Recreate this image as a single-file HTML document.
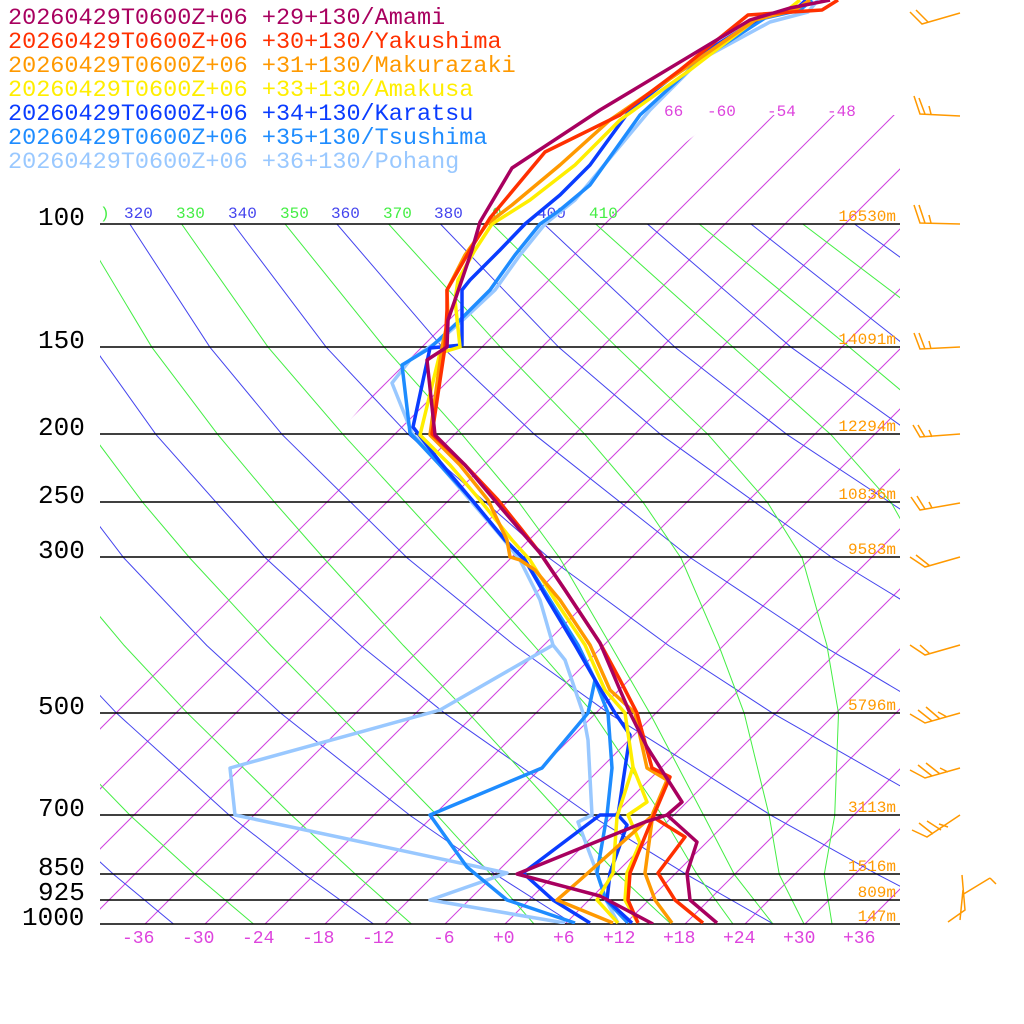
<!DOCTYPE html>
<html><head><meta charset="utf-8"><style>
body{margin:0;background:#fff;width:1024px;height:1024px;overflow:hidden}
svg{display:block}
text{font-family:"Liberation Mono",monospace}
</style></head><body>
<svg width="1024" height="1024" viewBox="0 0 1024 1024" xmlns="http://www.w3.org/2000/svg">
<defs>
<clipPath id="c"><rect x="100" y="0" width="800" height="924"/></clipPath>
<clipPath id="ca"><rect x="100" y="224" width="800" height="700"/></clipPath>
<clipPath id="ci"><polygon points="100,924 100,702 279,500 421,340 560,230 660,163 720,115 900,115 900,924"/></clipPath>
</defs>
<g clip-path="url(#ci)" stroke="#d040e0" stroke-width="1">
<line x1="-455" y1="924" x2="469" y2="0"/><line x1="-395" y1="924" x2="529" y2="0"/>
<line x1="-335" y1="924" x2="589" y2="0"/><line x1="-275" y1="924" x2="649" y2="0"/>
<line x1="-215" y1="924" x2="709" y2="0"/><line x1="-155" y1="924" x2="769" y2="0"/>
<line x1="-95" y1="924" x2="829" y2="0"/><line x1="-35" y1="924" x2="889" y2="0"/>
<line x1="25" y1="924" x2="949" y2="0"/><line x1="85" y1="924" x2="1009" y2="0"/>
<line x1="145" y1="924" x2="1069" y2="0"/><line x1="205" y1="924" x2="1129" y2="0"/>
<line x1="265" y1="924" x2="1189" y2="0"/><line x1="325" y1="924" x2="1249" y2="0"/>
<line x1="385" y1="924" x2="1309" y2="0"/><line x1="445" y1="924" x2="1369" y2="0"/>
<line x1="505" y1="924" x2="1429" y2="0"/><line x1="565" y1="924" x2="1489" y2="0"/>
<line x1="625" y1="924" x2="1549" y2="0"/><line x1="685" y1="924" x2="1609" y2="0"/>
<line x1="745" y1="924" x2="1669" y2="0"/><line x1="805" y1="924" x2="1729" y2="0"/>
<line x1="865" y1="924" x2="1789" y2="0"/>
</g>
<g clip-path="url(#ca)" fill="none" stroke="#4444ee" stroke-width="1">
<polyline points="173.5,924 113.9,874.6 49.1,815.6"/>
<polyline points="373.5,924 304.9,874.6 229.7,815.6 116.7,713.3 52.8,645.4"/>
<polyline points="573.5,924 495.8,874.6 410.3,815.6 280.8,713.3 206.7,645.4 123.9,558 29.9,434.7"/>
<polyline points="773.5,924 686.7,874.6 590.9,815.6 444.8,713.3 360.6,645.4 265.6,558 156.1,434.7 93.8,347.3 26.3,224"/>
<polyline points="973.5,924 877.6,874.6 771.5,815.6 608.8,713.3 514.5,645.4 407.3,558 282.3,434.7 210,347.3 129.8,224"/>
<polyline points="1173.5,924 1068.5,874.6 952.1,815.6 772.9,713.3 668.4,645.4 549.1,558 408.5,434.7 326.3,347.3 233.3,224"/>
<polyline points="1132.7,815.6 936.9,713.3 822.3,645.4 690.8,558 534.8,434.7 442.5,347.3 336.9,224"/>
<polyline points="1101,713.3 976.2,645.4 832.6,558 661,434.7 558.8,347.3 440.4,224"/>
<polyline points="1045,645.4 974.3,558 787.2,434.7 675,347.3 543.9,224"/>
<polyline points="1040,558 913.4,434.7 791.2,347.3 647.4,224"/>
<polyline points="1039.6,434.7 907.5,347.3 750.9,224"/>
<polyline points="1023.7,347.3 854.5,224"/>
</g>
<g clip-path="url(#ca)" fill="none" stroke="#44ee44" stroke-width="1">
<polyline points="253.5,924 195.1,874.6 130.4,815.6 31.1,713.3"/>
<polyline points="411.5,924 355.9,874.6 292,815.6 187.6,713.3 124.1,645.4 50.8,558"/>
<polyline points="534,924 491,874.6 437.4,815.6 337.5,713.3 270.7,645.4 189.8,558 142.9,502.6 92.1,434.7"/>
<polyline points="671,924 617.9,874.6 562.4,815.6 468.7,713.3 403.3,645.4 323.6,558 274.8,502.6 217.9,434.7 151.9,347.3 78,224"/>
<polyline points="733,924 697.2,874.6 662.2,815.6 593.3,713.3 533.9,645.4 456.5,558 405.7,502.6 343.3,434.7 268.2,347.3 181.6,224"/>
<polyline points="773,924 734.4,874.6 703.8,815.6 649.9,713.3 610.7,645.4 559.7,558 519.1,502.6 462.2,434.7 384.4,347.3 285.1,224"/>
<polyline points="804,924 779.3,874.6 769.2,815.6 744.2,713.3 718.8,645.4 681,558 643.3,502.6 585.2,434.7 500.6,347.3 388.6,224"/>
<polyline points="832,924 824.2,874.6 834.7,815.6 838.5,713.3 826.9,645.4 802.2,558 767.6,502.6 708.2,434.7 616.9,347.3 492.1,224"/>
<polyline points="922.3,558 891.2,502.6 831,434.7 733.1,347.3 595.7,224"/>
<polyline points="953.8,434.7 849.4,347.3 699.2,224"/>
<polyline points="965.6,347.3 802.7,224"/>
<polyline points="1020,347.3 906.2,224"/>
</g>
<g stroke="#000" stroke-width="1.5">
<line x1="100" y1="224" x2="900" y2="224"/><line x1="100" y1="347" x2="900" y2="347"/>
<line x1="100" y1="434" x2="900" y2="434"/><line x1="100" y1="502" x2="900" y2="502"/>
<line x1="100" y1="557" x2="900" y2="557"/><line x1="100" y1="713" x2="900" y2="713"/>
<line x1="100" y1="815" x2="900" y2="815"/><line x1="100" y1="874" x2="900" y2="874"/>
<line x1="100" y1="900" x2="900" y2="900"/><line x1="100" y1="924" x2="900" y2="924"/>
</g>
<g font-size="16">
<text x="100" y="218" fill="#44ee44">)</text>
<text x="124" y="218" fill="#4444ee">320</text><text x="176" y="218" fill="#44ee44">330</text>
<text x="228" y="218" fill="#4444ee">340</text><text x="280" y="218" fill="#44ee44">350</text>
<text x="331" y="218" fill="#4444ee">360</text><text x="383" y="218" fill="#44ee44">370</text>
<text x="434" y="218" fill="#4444ee">380</text><text x="492" y="218" fill="#44ee44">0</text>
<text x="537" y="218" fill="#4444ee">400</text><text x="589" y="218" fill="#44ee44">410</text>
</g>
<g font-size="16" fill="#dd44dd">
<text x="664" y="116">66</text><text x="707" y="116">-60</text><text x="767" y="116">-54</text><text x="827" y="116">-48</text>
</g>
<g fill="none" stroke-width="3.5" stroke-linejoin="round" clip-path="url(#c)">
<polyline stroke="#99c8ff" points="818,0 808,12 770,22 700,60 650,110 600,170 575,200 545,224 520,255 495,290 465,318 440,340 410,360 392,383 412,433 440,465 470,500 500,535 520,560 540,600 553,645 565,660 583,713 588,740 592,815 578,822 597,873 606,900 618,923"/>
<polyline stroke="#99c8ff" points="553,645 440,710 230,768 235,815 507,873 430,900 565,923"/>
<polyline stroke="#1e8cff" points="812,0 800,10 765,18 700,60 640,115 590,185 560,210 540,224 515,255 490,290 460,320 430,348 402,365 410,433 440,465 472,500 505,540 525,560 550,600 578,645 595,680 608,713 612,768 607,815 597,873 606,900 628,923"/>
<polyline stroke="#1e8cff" points="595,680 588,713 542,768 430,815 467,867 507,900 575,923"/>
<polyline stroke="#0a3cff" points="806,0 795,10 760,18 700,55 630,110 590,165 560,195 525,224 500,250 470,280 462,290 462,345 430,348 413,427 440,462 472,500 505,540 525,560 548,600 575,645 598,685 615,713 630,735 618,815 627,825 610,873 607,900 632,923"/>
<polyline stroke="#0a3cff" points="618,815 600,815 523,873 553,900 590,923"/>
<polyline stroke="#ffee00" points="800,0 790,8 755,20 690,70 620,120 575,165 530,200 492,224 475,250 458,280 455,300 460,347 440,353 420,435 450,465 480,500 512,540 530,560 555,600 585,645 605,690 625,713 633,767 647,802 628,815 640,843 627,873 625,900 638,923"/>
<polyline stroke="#ffee00" points="633,767 617,817 613,873 597,900 618,923"/>
<polyline stroke="#ff9900" points="810,0 795,10 755,20 690,65 610,120 560,165 512,205 487,224 465,255 447,290 448,320 442,347 430,435 460,465 488,500 507,540 510,557 520,560 535,570 560,600 590,645 610,690 635,713 647,768 667,780 653,813 645,873 655,900 672,923"/>
<polyline stroke="#ff9900" points="653,815 580,880 557,900 613,923"/>
<polyline stroke="#ff3000" points="838,0 822,10 748,15 680,70 620,115 545,152 490,218 470,250 447,290 447,310 445,347 432,434 465,465 498,500 522,530 540,553 565,590 600,643 620,680 637,713 652,768 670,777 653,817 685,837 658,873 675,900 703,923"/>
<polyline stroke="#ff3000" points="653,817 630,873 628,900 638,923"/>
<polyline stroke="#a8005f" points="830,0 790,8 750,20 700,50 600,110 512,168 480,222 472,250 455,300 448,320 447,347 427,360 435,435 465,465 497,503 520,530 540,553 565,590 600,643 620,690 630,713 647,747 682,802 667,815 697,842 687,873 690,900 717,923"/>
<polyline stroke="#a8005f" points="667,815 645,822 517,874 600,896 653,924"/>
</g>
<g font-size="26" fill="#000">
<text x="38" y="225">100</text><text x="38" y="348">150</text><text x="38" y="435">200</text>
<text x="38" y="503">250</text><text x="38" y="558">300</text><text x="38" y="714">500</text>
<text x="38" y="816">700</text><text x="38" y="875">850</text><text x="38" y="900">925</text>
<text x="22" y="925">1000</text>
</g>
<g font-size="16" fill="#ff9900" text-anchor="end">
<text x="896" y="221">16530m</text><text x="896" y="344">14091m</text><text x="896" y="431">12294m</text>
<text x="896" y="499">10836m</text><text x="896" y="554">9583m</text><text x="896" y="710">5796m</text>
<text x="896" y="812">3113m</text><text x="896" y="871">1516m</text><text x="896" y="897">809m</text>
<text x="896" y="921">147m</text>
</g>
<g font-size="18" fill="#dd44dd">
<text x="122" y="943">-36</text><text x="182" y="943">-30</text><text x="242" y="943">-24</text>
<text x="302" y="943">-18</text><text x="362" y="943">-12</text><text x="433" y="943">-6</text>
<text x="493" y="943">+0</text><text x="553" y="943">+6</text><text x="603" y="943">+12</text>
<text x="663" y="943">+18</text><text x="723" y="943">+24</text><text x="783" y="943">+30</text>
<text x="843" y="943">+36</text>
</g>
<g font-size="23.5">
<text x="8" y="24" fill="#a8005f">20260429T0600Z+06 +29+130/Amami</text>
<text x="8" y="48" fill="#ff3000">20260429T0600Z+06 +30+130/Yakushima</text>
<text x="8" y="72" fill="#ff9900">20260429T0600Z+06 +31+130/Makurazaki</text>
<text x="8" y="96" fill="#ffee00">20260429T0600Z+06 +33+130/Amakusa</text>
<text x="8" y="120" fill="#0a3cff">20260429T0600Z+06 +34+130/Karatsu</text>
<text x="8" y="144" fill="#1e8cff">20260429T0600Z+06 +35+130/Tsushima</text>
<text x="8" y="168" fill="#99c8ff">20260429T0600Z+06 +36+130/Pohang</text>
</g>
<g stroke="#ff9900" stroke-width="1.5" fill="none">
<path d="M960,13 L922,24 L910,12 M928,22 L916,10"/>
<path d="M960,116 L920,114 L914,96 M925,114 L919,98 M931,114 L929,106"/>
<path d="M960,224 L920,223 L914,205 M925,223 L919,205 M931,223 L929,215"/>
<path d="M960,347 L920,349 L914,333 M925,349 L919,333 M931,349 L929,341"/>
<path d="M960,434 L920,437 L913,425 M925,437 L918,425 M932,437 L929,430"/>
<path d="M960,503 L920,510 L911,497 M925,509 L917,496 M932,508 L929,502"/>
<path d="M960,557 L925,567 L910,557 M930,566 L916,555"/>
<path d="M960,645 L925,655 L910,645 M930,654 L920,645"/>
<path d="M960,713 L925,723 L910,714 M932,721 L918,710 M940,719 L926,707 M947,717 L938,712"/>
<path d="M960,768 L925,778 L910,770 M932,776 L918,765 M940,774 L926,763 M948,772 L940,768"/>
<path d="M960,815 L927,837 L912,830 M933,834 L919,823 M941,830 L927,821 M948,827 L939,824"/>
<path d="M948,922 L965,910 L962,875 M962,895 L990,878 M990,878 L996,884 M960,920 L963,890"/>
</g>
</svg>
</body></html>
